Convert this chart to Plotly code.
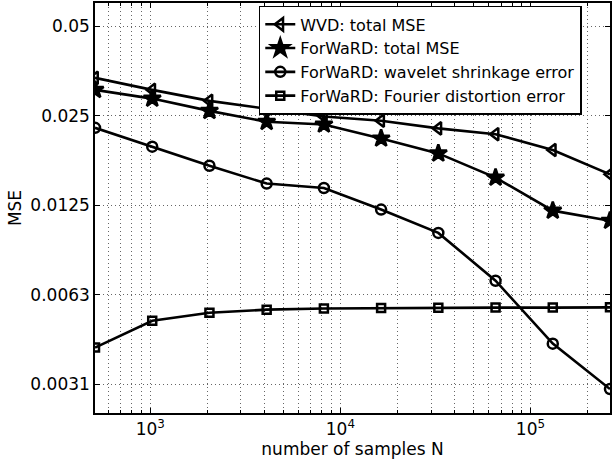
import plotly.graph_objects as go

N = [512, 1024, 2048, 4096, 8192, 16384, 32768, 65536, 131072, 262144]
wvd_total = [0.0336, 0.0306, 0.0281, 0.0264, 0.0249, 0.0241, 0.0227, 0.0217, 0.0192, 0.0159]
forward_total = [0.0306, 0.0286, 0.0260, 0.0239, 0.0234, 0.0210, 0.0187, 0.0155, 0.0120, 0.0111]
wavelet_err = [0.0228, 0.0197, 0.0170, 0.0148, 0.0143, 0.0121, 0.0101, 0.00697, 0.00428, 0.00301]
fourier_err = [0.00415, 0.00511, 0.00544, 0.00557, 0.00562, 0.00564, 0.00565, 0.00566, 0.00566, 0.00567]

names = ["WVD: total MSE", "ForWaRD: total MSE",
         "ForWaRD: wavelet shrinkage error", "ForWaRD: Fourier distortion error"]

y_tickvals = [0.003125, 0.00625, 0.0125, 0.025, 0.05]
y_ticktext = ["0.0031", "0.0063", "0.0125", "0.025", "0.05"]

x_tickvals = [1000, 10000, 100000]
x_ticktext = ["10<sup>3</sup>", "10<sup>4</sup>", "10<sup>5</sup>"]
x_minorvals = [600, 700, 800, 900, 2000, 3000, 4000, 5000, 6000, 7000, 8000, 9000,
               20000, 30000, 40000, 50000, 60000, 70000, 80000, 90000, 200000]

FONT = "DejaVu Sans, sans-serif"
FS = 17
GRID = dict(gridcolor="#666", gridwidth=1, griddash="1px,3px")

fig = go.Figure()
series = [
    (wvd_total, "triangle-left-open", 11),
    (forward_total, "star", 13),
    (wavelet_err, "circle-open", 10),
    (fourier_err, "square-open", 8),
]
for (vals, sym, size), name in zip(series, names):
    fig.add_trace(go.Scatter(
        x=N, y=vals, name=name, mode="lines+markers",
        line=dict(color="black", width=2.6),
        marker=dict(symbol=sym, size=size, color="black", line=dict(color="black", width=2.5)),
    ))

axis_common = dict(
    showline=True, linecolor="black", linewidth=1.5, mirror="ticks",
    ticks="inside", ticklen=5, tickcolor="black",
    showgrid=True, zeroline=False,
    tickfont=dict(family=FONT, size=17, color="black"),
    **GRID,
)

fig.update_xaxes(
    type="log", range=[2.70927, 5.41854],
    tickmode="array", tickvals=x_tickvals, ticktext=x_ticktext,
    minor=dict(tickmode="array", tickvals=x_minorvals, showgrid=True,
               ticks="inside", ticklen=3, tickcolor="black", **GRID),
    title=dict(text="number of samples N", font=dict(family=FONT, size=FS, color="black"), standoff=2),
    **axis_common,
)
fig.update_yaxes(
    type="log", range=[-2.60206, -1.2218],
    tickmode="array", tickvals=y_tickvals, ticktext=y_ticktext,
    title=dict(text="MSE", font=dict(family=FONT, size=FS, color="black"), standoff=4),
    **axis_common,
)

fig.update_layout(
    width=616, height=468,
    margin=dict(l=95, r=6, t=1, b=55),
    paper_bgcolor="white", plot_bgcolor="white",
    font=dict(family=FONT, size=FS, color="black"),
    showlegend=True,
    legend=dict(
        x=0.318, y=0.993, xanchor="left", yanchor="top",
        bgcolor="white", bordercolor="black", borderwidth=1.5,
        font=dict(family=FONT, size=16, color="black"),
        tracegroupgap=0, itemwidth=30,
    ),
)

fig.write_html("out.html",
               config={"displayModeBar": False},
               post_script="document.body.style.margin='0';document.body.style.overflow='hidden';")
